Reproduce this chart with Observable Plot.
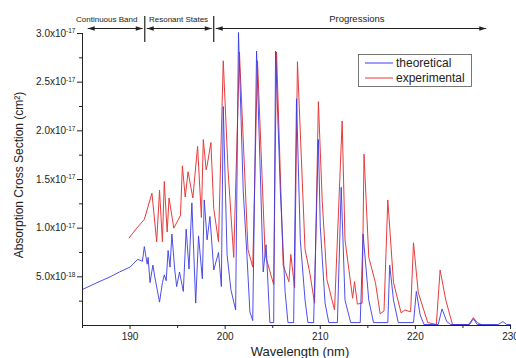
<!DOCTYPE html>
<html><head><meta charset="utf-8">
<script src="https://cdn.jsdelivr.net/npm/d3@7"></script>
<script src="https://cdn.jsdelivr.net/npm/@observablehq/plot@0.6"></script>
<style>
body{margin:0;background:#fff;}
#chart svg{font-family:"Liberation Sans",Arial,sans-serif;}
</style>
</head><body><div id="chart"></div>
<script>
// Theoretical (blue) spectrum: wavelength (nm) and cross section (×1e-17 cm²)
const theoWl = [185.0,186.3,187.9,188.9,190.0,190.8,191.3,191.5,191.8,191.9,192.1,192.4,192.6,193.1,193.4,193.6,193.8,194.0,194.2,194.4,194.7,194.9,195.2,195.6,195.9,196.2,196.5,196.9,197.2,197.6,197.8,198.1,198.4,198.8,199.3,199.6,199.8,200.2,200.6,201.1,201.4,201.9,202.3,202.6,202.9,203.3,203.7,204.0,204.3,204.7,205.1,205.3,205.8,206.3,206.6,207.2,207.5,207.9,208.4,208.7,209.3,209.8,210.0,210.5,210.9,211.8,212.2,212.6,213.2,214.2,214.5,215.1,215.6,217.1,217.3,217.7,218.2,219.8,220.1,220.5,220.9,222.4,222.8,223.3,223.7,225.7,226.1,226.5,228.7,229.2,229.6,230.0];
const theoVal = [0.37,0.43,0.50,0.55,0.60,0.68,0.66,0.81,0.63,0.70,0.44,0.62,0.50,0.24,0.44,0.52,0.46,0.77,0.60,0.94,0.57,0.40,0.55,0.35,0.99,0.58,1.26,0.23,0.92,0.48,1.29,0.88,1.12,0.57,0.75,0.40,2.25,0.73,0.37,0.16,3.01,1.38,0.70,0.14,0.05,2.82,1.55,0.55,0.83,0.03,0.03,2.82,1.38,0.35,0.03,0.03,2.33,0.88,0.26,0.03,0.03,1.91,1.02,0.23,0.03,0.03,1.42,0.26,0.03,0.03,0.94,0.26,0.03,0.03,0.62,0.26,0.03,0.03,0.35,0.11,0.01,0.01,0.17,0.04,0.01,0.01,0.07,0.01,0.01,0.04,0.01,0.01];
// Experimental (red) spectrum
const expWl = [189.9,190.7,191.5,192.3,192.8,193.1,193.4,193.6,193.9,194.1,194.6,195.3,195.5,195.8,196.1,196.6,197.1,197.5,197.7,198.0,198.1,198.5,198.8,199.3,199.8,200.3,200.9,201.5,202.4,202.9,203.4,204.2,205.1,205.4,206.1,206.7,206.9,207.3,207.6,208.4,208.9,209.4,209.8,210.2,210.7,211.5,212.3,212.6,213.4,213.6,213.9,214.4,214.6,215.1,215.8,216.3,216.7,217.1,217.7,218.5,218.9,219.5,219.8,220.3,221.3,222.2,222.6,223.2,223.9,225.6,226.1,226.5,227.1];
const expVal = [0.90,1.00,1.09,1.36,0.86,1.39,0.86,1.48,0.96,1.31,1.00,1.13,1.64,1.32,1.58,1.31,1.84,1.11,1.91,1.60,1.64,1.88,1.20,0.86,2.72,1.60,0.70,2.81,0.78,0.60,2.72,0.73,0.42,2.81,0.62,0.45,0.73,0.39,2.71,0.78,0.54,0.23,2.30,1.29,0.47,0.16,2.10,0.88,0.28,0.45,0.22,0.23,1.76,0.70,0.44,0.12,0.15,1.29,0.44,0.13,0.16,0.14,0.85,0.34,0.03,0.01,0.57,0.26,0.01,0.01,0.08,0.03,0.0];

const xTicks = [190,200,210,220,230];
const xMinorTicks = [185,195,205,215,225];
const yTicks = [0.5,1.0,1.5,2.0,2.5,3.0];
const yMinorTicks = [0.25,0.75,1.25,1.75,2.25,2.75];

const regionNames = ["Continuous Band","Resonant States","Progressions"];
const regionStarts = [185.6,191.6,198.85];
const regionEnds = [191.6,198.85,227.5];
const regionLabelX = [187.6,195.15,213.9];
const regionFont = [8,8,9.5];

const seriesNames = ["theoretical","experimental"];
const seriesColors = ["#3b3be8","#e83b3b"];

const theo = theoWl.map((w,i)=>({w, v: theoVal[i]}));
const expt = expWl.map((w,i)=>({w, v: expVal[i]}));

function fmtY(v){
  if (v < 1) return (v*10).toFixed(1) + "x10^-18";
  return v.toFixed(1) + "x10^-17";
}

const chart = Plot.plot({
  width: 516, height: 358,
  marginLeft: 82, marginRight: 6, marginTop: 33, marginBottom: 33,
  style: {fontFamily: "'Liberation Sans', Arial, sans-serif", fontSize: "10px", color: "#222", background: "#fff"},
  x: {domain: [185, 230]},
  y: {domain: [0, 3.0]},
  marks: [
    Plot.line(expt, {x: "w", y: "v", stroke: seriesColors[1], strokeWidth: 1}),
    Plot.line(theo, {x: "w", y: "v", stroke: seriesColors[0], strokeWidth: 1, strokeOpacity: 0.9}),
    Plot.axisX({ticks: xTicks, tickSize: 4, tickPadding: 3, label: null, tickFormat: d => String(d), stroke: "#222"}),
    Plot.axisX({ticks: xMinorTicks, tickSize: 3, text: null, label: null, stroke: "#222"}),
    Plot.axisY({ticks: yTicks, tickSize: 5, tickPadding: 2, label: null, tickFormat: fmtY, stroke: "#222"}),
    Plot.axisY({ticks: yMinorTicks, tickSize: 3, text: null, label: null, stroke: "#222"}),
    Plot.ruleX([185], {stroke: "#222"}),
    Plot.ruleY([0], {stroke: "#222"})
  ]
});
document.getElementById("chart").appendChild(chart);

const svg = d3.select(chart);
// superscript exponents in y tick labels
svg.selectAll('g[aria-label="y-axis tick label"] text').each(function(){
  const parts = this.textContent.split("^");
  const t = d3.select(this);
  t.text(null);
  t.append("tspan").text(parts[0]);
  t.append("tspan").attr("dy", "-0.5em").attr("font-size", "6.5px").text(parts[1]);
});

const xs = chart.scale("x");
const px = v => xs.apply(v);

// axis titles
svg.append("text").attr("x", 300).attr("y", 356).attr("text-anchor", "middle")
  .attr("font-size", "13px").attr("fill", "#222").text("Wavelength (nm)");
svg.append("text").attr("transform", "translate(23,175) rotate(-90)").attr("text-anchor", "middle")
  .attr("font-size", "12px").attr("fill", "#222").text("Absorption Cross Section (cm²)");

// region annotations
const ann = svg.append("g").attr("stroke", "#222").attr("fill", "#222");
const ay = 28.5;
function head(x, dir){
  ann.append("path").attr("stroke", "none")
    .attr("d", `M${x},${ay}L${x - dir*7},${ay - 2.2}L${x - dir*7},${ay + 2.2}Z`);
}
regionNames.forEach((name, i) => {
  const a = px(regionStarts[i]) + (i > 0 ? 2 : 0);
  const b = px(regionEnds[i]) - (i < 2 ? 2 : 0);
  ann.append("line").attr("x1", a).attr("x2", b).attr("y1", ay).attr("y2", ay).attr("stroke-width", 1);
  head(a, -1); head(b, 1);
  svg.append("text").attr("x", px(regionLabelX[i])).attr("y", 19).attr("dy", "0.35em")
    .attr("text-anchor", "middle").attr("font-size", regionFont[i] + "px").attr("fill", "#222").text(name);
});
[regionEnds[0], regionEnds[1]].forEach(s => {
  ann.append("line").attr("x1", px(s)).attr("x2", px(s)).attr("y1", 16).attr("y2", 42).attr("stroke-width", 1.2);
});

// legend
const lg = svg.append("g");
lg.append("rect").attr("x", 358.5).attr("y", 54.5).attr("width", 113).attr("height", 32)
  .attr("fill", "#fff").attr("stroke", "#555").attr("stroke-width", 0.8);
seriesNames.forEach((n, i) => {
  const y = 63 + i * 15;
  lg.append("line").attr("x1", 365).attr("x2", 393).attr("y1", y).attr("y2", y)
    .attr("stroke", seriesColors[i]).attr("stroke-width", 1);
  lg.append("text").attr("x", 396).attr("y", y).attr("dy", "0.35em").attr("font-size", "12px")
    .attr("text-anchor", "start").attr("fill", "#222").text(n);
});
</script>
</body></html>
